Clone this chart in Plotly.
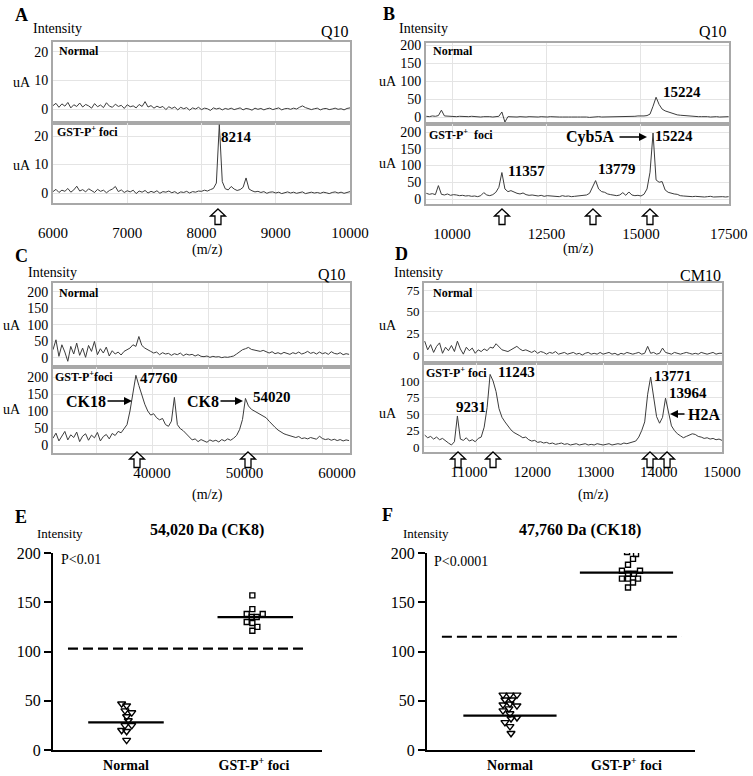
import plotly.graph_objects as go

W, H = 753, 776
SERIF = "Liberation Serif"
LINE = "#3c3c3c"
BOX = "#a8a8a8"
GRID = "#e4e4e4"

# ---------------- data ----------------
# Panel A (Q10), m/z sampling grid and intensities (uA)
A_mz = list(range(6000, 10001, 40))
A_normal = [1.2, 2.0, 0.6, 1.8, 1.0, 2.3, 0.4, 1.5, 0.9, 2.1,
            0.7, 1.6, 1.1, 0.3, 1.9, 0.8, 1.4, 0.5, 2.2, 1.0,
            0.6, 1.7, 0.9, 1.3, 0.2, 1.5, 0.8, 1.1, 0.4, 1.6,
            0.9, 2.6, 0.7, 1.2, 0.3, 1.0, 0.5, 0.9, -0.2, 0.8,
            0.2, 0.7, -0.3, 0.6, 0.1, 0.5, -0.4, 0.4, 0.0, 0.6,
            -0.2, 0.3, 0.1, -0.5, 0.4, 0.0, 0.3, -0.3, 0.2, -0.1,
            0.3, -0.2, 0.1, 0.4, -0.3, 0.2, 0.0, -0.4, 0.3, -0.1,
            0.2, -0.3, 0.1, 0.3, -0.2, 0.0, 0.4, -0.3, 0.1, 0.2,
            -0.1, 0.3, 0.0, 0.6, 1.1, 0.5, 0.2, -0.2, 0.1, 0.3,
            -0.3, 0.1, 0.2, -0.2, 0.0, 0.3, -0.1, 0.1, -0.3, 0.2, 0.4]
A_gst = [0.5, 1.3, 0.2, 1.0, 0.6, 1.6, 0.3, 1.1, 2.4, 0.7,
         1.2, 0.4, 1.5, 0.8, 0.2, 1.3, 0.6, 1.0, 0.1, 0.9,
         1.4, 2.3, 0.5, 1.1, 0.2, 0.8, 0.4, 1.0, -0.2, 0.7,
         0.3, 0.9, 0.0, 0.6, 0.2, 0.8, -0.1, 0.5, 0.3, 0.7,
         0.1, 0.5, -0.2, 0.4, 0.2, 0.6, 0.0, 0.5, 0.3, 0.7,
         0.6, 1.0, 0.7, 1.2, 1.6, 3.5, 24.0, 4.0, 1.5, 1.1,
         2.3, 1.4, 0.9, 1.2, 2.0, 5.3, 1.4, 0.8, 0.4, 0.6,
         0.2, 0.5, -0.1, 0.3, 0.4, 0.0, 0.3, -0.2, 0.2, 0.4,
         0.0, 0.3, -0.1, 0.2, 0.4, -0.2, 0.1, 0.3, 0.0, 0.2,
         -0.1, 0.3, 0.1, -0.2, 0.2, 0.4, 0.0, 0.3, -0.1, 0.2, 0.5]
A_arrow_mz = [8222]

# Panel B (Q10)
B_mz = list(range(9320, 17321, 80))
B_normal = [2, 1, 3, 2, 4, 19, 3, 2, 1, 2,
            1, 2, 1, 0, 1, 2, 1, 1, 0, 1,
            2, 1, 0, 1, 2, 14, -14, 1, 0, 1,
            0, 1, 0, 0, 1, 0, -1, 0, 1, 0,
            0, 1, 0, -1, 0, 0, 1, 0, 0, 1,
            0, 0, 1, 0, -1, 0, 0, 1, 0, 0,
            1, 0, 0, 1, 0, 1, 0, 1, 2, 2,
            3, 2, 3, 4, 8, 30, 55, 35, 22, 17,
            14, 10, 8, 6, 5, 4, 3, 3, 2, 2,
            1, 1, 2, 1, 0, 1, 1, 0, 1, 0, 1]
B_gst = [17, 14, 16, 13, 40, 14, 12, 15, 11, 13,
         12, 10, 11, 9, 10, 8, 9, 7, 10, 19,
         12, 10, 13, 20, 35, 79, 30, 22, 25, 20,
         17, 15, 18, 13, 11, 12, 10, 9, 11, 8,
         10, 9, 8, 9, 7, 10, 8, 9, 7, 8,
         9, 8, 10, 12, 17, 35, 55, 30, 22, 20,
         15, 13, 12, 10, 12, 19, 11, 21, 12, 10,
         11, 9, 14, 30, 80, 197, 57, 50, 52, 27,
         20, 17, 15, 14, 10, 9, 8, 9, 7, 8,
         7, 8, 6, 7, 8, 6, 7, 6, 7, 6, 7]
B_arrow_mz = [11323, 13731, 15239]

# Panel C (Q10)
C_mz = list(range(29300, 61301, 320))
C_normal = [25, 55, 5, 40, 18, -10, 35, 12, 45, 8,
            30, 2, 38, 20, 50, 10, 28, 15, 33, 6,
            22, 12, 18, 9, 20, 25, 30, 40, 35, 65,
            38, 30, 24, 20, 15, 18, 10, 16, 12, 14,
            8, 13, 10, 15, 7, 12, 9, 11, 6, 10,
            5, 4, 6, 2, 5, 3, 4, 1, 3, 2,
            4, 6, 12, 20, 25, 28, 32, 26, 24, 22,
            20, 23, 18, 15, 19, 13, 16, 12, 17, 14,
            11, 16, 13, 18, 12, 15, 20, 14, 17, 12,
            18, 13, 16, 11, 19, 14, 12, 16, 10, 13, 11]
C_gst = [20, 35, 12, 28, 40, 15, 30, 22, 38, 10,
         26, 33, 14, 29, 21, 37, 12, 25, 31, 18,
         34, 28, 40, 36, 48, 60, 100, 150, 205, 175,
         145, 120, 100, 88, 92, 80, 74, 78, 60, 55,
         70, 140, 60, 48, 42, 34, 25, 15, 18, 10,
         16, 12, 8, 15, 11, 14, 9, 16, 12, 18,
         14, 20, 28, 45, 75, 137, 115, 105, 100, 95,
         90, 86, 80, 70, 60, 52, 44, 38, 33, 30,
         27, 24, 22, 25, 19, 21, 18, 22, 20, 17,
         26, 19, 16, 18, 14, 17, 13, 16, 12, 15, 13]
C_arrow_mz = [38379, 50376]

# Panel D (CM10)
D_mz = list(range(10300, 15001, 47))
D_normal = [16, 6, 12, 3, 10, 14, 2, 9, 5, 11,
            4, 16, 7, 1, 9, 5, 8, 2, 6, 4,
            7, 5, 9, 8, 13, 9, 6, 5, 4, 6,
            8, 10, 7, 5, 6, 4, 3, 5, 2, 4,
            3, 1, 3, 2, 4, 1, 2, 3, 1, 2,
            3, 1, 2, 0, 2, 3, 1, 2, 1, 3,
            1, 2, 3, 1, 2, 0, 2, 1, 3, 2,
            1, 2, 3, 1, 2, 10, 2, 3, 1, 2,
            8, 3, 2, 1, 3, 2, 1, 2, 3, 2,
            1, 2, 1, 3, 2, 1, 2, 3, 1, 2, 2]
D_gst = [18, 14, 16, 12, 15, 11, 13, 9, 6, 3,
         8, 47, 12, 10, 14, 9, 11, 8, 13, 15,
         30, 60, 110, 100, 84, 58, 45, 38, 32, 26,
         22, 20, 17, 14, 15, 11, 9, 10, 7, 8,
         6, 7, 5, 6, 4, 5, 6, 4, 5, 3,
         4, 5, 3, 4, 5, 3, 4, 3, 5, 4,
         3, 4, 5, 3, 4, 5, 4, 6, 5, 6,
         7, 9, 15, 25, 38, 80, 106, 79, 46, 36,
         45, 74, 50, 32, 25, 20, 17, 14, 16, 18,
         20, 19, 16, 15, 13, 14, 12, 13, 11, 12, 10]
D_arrow_mz = [10827, 11380, 13862, 14131]

# Panels E / F (scatter of intensities)
groups = ["Normal", "GST-P<sup>+</sup> foci"]
E_normal_x = [0.966, 1.005, 0.992, 1.045, 1.005, 1.018, 1.045, 0.992, 0.966, 1.005, 1.005]
E_normal_y = [47, 45, 40, 38, 34, 30, 25, 25, 20, 19, 10]
E_gst_x = [1.987, 1.987, 1.943, 2.068, 1.982, 2.021, 1.943, 1.987, 2.026, 1.987]
E_gst_y = [157, 143, 138, 138, 135, 135, 130, 129, 125, 121]
E_medians = [28, 135]
E_cutoff = 103

F_normal_x = [0.940, 1.000, 1.060, 0.957, 1.017, 0.940, 1.000, 1.060, 0.991, 0.940,
              1.000, 1.009, 1.060, 0.957, 1.000, 1.009]
F_normal_y = [56, 56, 56, 51, 51, 46, 47, 45, 42, 40, 37, 32, 33, 28, 24, 17]
F_gst_x = [2.047, 2.005, 2.082, 2.056, 2.013, 1.961, 2.116, 2.013, 2.064, 1.961,
           2.013, 2.099, 2.056, 2.013]
F_gst_y = [206, 201, 199, 194, 188, 182, 182, 179, 179, 174, 174, 174, 170, 165]
F_medians = [35, 180]
F_cutoff = 115


# ---------------- helpers ----------------
def px(x):
    return x / W


def py(y):
    return 1 - y / H


def axname(n, kind):
    return kind if n == 1 else f"{kind}{n}"


def axkey(n, kind):
    return f"{kind}axis" if n == 1 else f"{kind}axis{n}"


fig = go.Figure()
layout = dict(width=W, height=H,
              margin=dict(l=0, r=0, t=0, b=0, pad=0, autoexpand=False),
              paper_bgcolor="white", plot_bgcolor="white", showlegend=False,
              font=dict(family=SERIF, color="black"))
annotations = []
shapes = []


def add_line(n, mz, vals):
    fig.add_trace(go.Scatter(x=mz, y=vals, mode="lines",
                             line=dict(color=LINE, width=1),
                             xaxis=axname(n, "x"), yaxis=axname(n, "y"),
                             hoverinfo="skip"))


def spec_axes(n, xdom, ydom, xr, yr, yticks, grid, labels=None, ytsize=14):
    xa = dict(domain=[px(xdom[0]), px(xdom[1])], range=xr, anchor=axname(n, "y"),
              showline=True, mirror=True, linecolor=BOX, linewidth=2, automargin=False,
              showgrid=False, zeroline=False, ticks="",
              minor=dict(tickmode="array", tickvals=grid, showgrid=True,
                         gridcolor=GRID, gridwidth=1, ticks=""))
    if labels:
        xa.update(tickmode="array", tickvals=labels[0], ticktext=labels[1],
                  tickfont=dict(size=15, family=SERIF), ticklabelstandoff=labels[2])
    else:
        xa.update(showticklabels=False)
    ya = dict(domain=[py(ydom[1]), py(ydom[0])], range=yr, anchor=axname(n, "x"),
              showline=True, mirror=True, linecolor=BOX, linewidth=2, automargin=False,
              showgrid=True, gridcolor=GRID, zeroline=False, ticks="",
              tickmode="array", tickvals=yticks, tickfont=dict(size=ytsize, family=SERIF),
              ticklabelstandoff=0)
    layout[axkey(n, "x")] = xa
    layout[axkey(n, "y")] = ya


def txt(x, y, text, size=14, bold=False, xanchor="left"):
    if bold:
        text = f"<b>{text}</b>"
    annotations.append(dict(x=px(x), y=py(y), xref="paper", yref="paper",
                            text=text, showarrow=False, xanchor=xanchor,
                            yanchor="middle", borderpad=0,
                            font=dict(size=size, family=SERIF)))


def arrow(tail_x, tip_x, y):
    annotations.append(dict(x=px(tip_x), y=py(y), xref="paper", yref="paper",
                            ax=tail_x - tip_x, ay=0, text="", showarrow=True,
                            arrowhead=2, arrowsize=1, arrowwidth=1.6,
                            arrowcolor="black"))


HOLLOW = "M 0,0 L 7.5,-7 L 3,-7 L 3,-15.5 L -3,-15.5 L -3,-7 L -7.5,-7 Z"


def hollow_arrows(n, mzs, tip_y):
    for m in mzs:
        shapes.append(dict(type="path", xref=axname(n, "x"), yref="paper",
                           xsizemode="pixel", ysizemode="pixel",
                           xanchor=m, yanchor=py(tip_y), path=HOLLOW,
                           line=dict(color="black", width=1.3),
                           fillcolor="white", layer="above"))


# ---------------- Panel A ----------------
add_line(1, A_mz, A_normal)
add_line(2, A_mz, A_gst)
spec_axes(1, (53, 350), (42, 123), [6000, 10000], [-4.9, 23.5], [0, 10, 20], [7000, 8000, 9000])
spec_axes(2, (53, 350), (123, 203), [6000, 10000], [-3.5, 24.6], [0, 10, 20], [7000, 8000, 9000],
          labels=([6000, 7000, 8000, 9000, 10000], ["6000", "7000", "8000", "9000", "10000"], 15))
hollow_arrows(2, A_arrow_mz, 209)
txt(21, 15, "A", 18, True, "center")
txt(32, 28.5, "Intensity", 14)
txt(350, 32, "Q10", 16, xanchor="right")
txt(58, 51, "Normal", 12, True)
txt(56, 131, "GST-P<sup>+</sup> foci", 12, True)
txt(12, 83, "uA", 14)
txt(12, 165, "uA", 14)
txt(220, 137, "8214", 15, True)
txt(208, 250, "(m/z)", 14, xanchor="center")

# ---------------- Panel B ----------------
add_line(3, B_mz, B_normal)
add_line(4, B_mz, B_gst)
spec_axes(3, (426, 729), (43, 124), [9312, 17330], [-19.4, 205.6], [0, 50, 100, 150, 200],
          [10000, 12500, 15000])
spec_axes(4, (426, 729), (124, 204), [9312, 17330], [-14.9, 223.9], [0, 50, 100, 150, 200],
          [10000, 12500, 15000],
          labels=([10000, 12500, 15000, 17325], ["10000", "12500", "15000", "17500"], 15))
hollow_arrows(4, B_arrow_mz, 209)
txt(389, 14, "B", 18, True, "center")
txt(398, 28.5, "Intensity", 14)
txt(728, 32, "Q10", 16, xanchor="right")
txt(432, 51, "Normal", 12, True)
txt(428, 134, "GST-P<sup>+</sup>  foci", 12, True)
txt(378, 82, "uA", 14)
txt(378, 163, "uA", 14)
txt(662, 92, "15224", 15, True)
txt(654, 136, "15224", 15, True)
txt(565, 137, "Cyb5A", 16, True)
arrow(618, 647, 137)
txt(507, 171, "11357", 15, True)
txt(597, 169, "13779", 15, True)
txt(578, 249, "(m/z)", 14, xanchor="center")

# ---------------- Panel C ----------------
add_line(5, C_mz, C_normal)
add_line(6, C_mz, C_gst)
C_grid = [33950, 40000, 46160, 52430, 58480]
spec_axes(5, (53, 350), (283, 367), [29300, 61400], [-27.3, 227], [0, 50, 100, 150, 200], C_grid)
spec_axes(6, (53, 350), (367, 453), [29300, 61400], [-23.5, 229.4], [0, 50, 100, 150, 200], C_grid,
          labels=([40000, 50000, 60000], ["40000", "50000", "60000"], 5))
hollow_arrows(6, C_arrow_mz, 452)
txt(21.5, 256, "C", 18, True, "center")
txt(27, 272, "Intensity", 14)
txt(347, 274, "Q10", 16, xanchor="right")
txt(58, 293, "Normal", 12, True)
txt(54, 376, "GST-P<sup>+</sup>foci", 12, True)
txt(2, 325, "uA", 14)
txt(2, 409, "uA", 14)
txt(139, 378, "47760", 15, True)
txt(252, 397, "54020", 15, True)
txt(65, 401, "CK18", 16, True)
arrow(106, 132, 401)
txt(186, 401, "CK8", 16, True)
arrow(219, 243, 401)
txt(208, 495, "(m/z)", 14, xanchor="center")

# ---------------- Panel D ----------------
add_line(7, D_mz, D_normal)
add_line(8, D_mz, D_gst)
D_grid = [11111, 12075, 13119, 14131]
spec_axes(7, (424, 722), (283, 363), [10289, 15000], [-9.2, 83.1], [0, 25, 50, 75], D_grid, ytsize=13)
spec_axes(8, (424, 722), (363, 452), [10289, 15000], [-7.6, 127.3], [0, 25, 50, 75, 100], D_grid,
          labels=([11000, 12000, 13000, 14000, 15000],
                  ["11000", "12000", "13000", "14000", "15000"], 5), ytsize=13)
hollow_arrows(8, D_arrow_mz, 452)
txt(401, 254, "D", 18, True, "center")
txt(393, 272, "Intensity", 14)
txt(722, 275, "CM10", 16, xanchor="right")
txt(432, 293, "Normal", 12, True)
txt(425, 372, "GST-P<sup>+</sup> foci", 12, True)
txt(378, 325, "uA", 14)
txt(378, 413, "uA", 14)
txt(497, 372, "11243", 15, True)
txt(455, 407, "9231", 15, True)
txt(653, 376, "13771", 15, True)
txt(668, 393, "13964", 15, True)
txt(687, 414, "H2A", 16, True)
arrow(686, 670, 414)
txt(593, 495, "(m/z)", 14, xanchor="center")


# ---------------- Panels E / F ----------------
def scatter_panel(n, xdom, xr, nx, ny, gx, gy, medians, half, cutoff, cut_span):
    xa, ya = axname(n, "x"), axname(n, "y")
    fig.add_trace(go.Scatter(x=nx, y=ny, mode="markers", xaxis=xa, yaxis=ya,
                             marker=dict(symbol="triangle-down-open", size=7, color="black",
                                         line=dict(width=1.4)), hoverinfo="skip"))
    fig.add_trace(go.Scatter(x=gx, y=gy, mode="markers", xaxis=xa, yaxis=ya,
                             marker=dict(symbol="square-open", size=5, color="black",
                                         line=dict(width=1.4)), hoverinfo="skip"))
    for i, m in enumerate(medians):
        c = i + 1
        fig.add_trace(go.Scatter(x=[c - half[0] + half[1] * i, c + half[0] + half[1] * i],
                                 y=[m, m], mode="lines", xaxis=xa, yaxis=ya,
                                 line=dict(color="black", width=2.2), hoverinfo="skip"))
    fig.add_trace(go.Scatter(x=list(cut_span), y=[cutoff, cutoff], mode="lines", xaxis=xa, yaxis=ya,
                             line=dict(color="black", width=2.2, dash="10px,5px"), hoverinfo="skip"))
    layout[axkey(n, "x")] = dict(domain=[px(xdom[0]), px(xdom[1])], range=xr, anchor=ya,
                                 showline=True, linecolor="black", linewidth=2, ticks="",
                                 automargin=False,
                                 tickmode="array", tickvals=[1, 2],
                                 ticktext=[f"<b>{g}</b>" for g in groups],
                                 tickfont=dict(size=14, family=SERIF), showgrid=False,
                                 zeroline=False, ticklabelstandoff=1)
    layout[axkey(n, "y")] = dict(domain=[py(750), py(553)], range=[0, 200], anchor=xa,
                                 showline=True, linecolor="black", linewidth=2,
                                 automargin=False,
                                 ticks="outside", ticklen=7, tickwidth=2, tickcolor="black",
                                 tickmode="array", tickvals=[0, 50, 100, 150, 200],
                                 tickfont=dict(size=16, family=SERIF), showgrid=False,
                                 zeroline=False, ticklabelstandoff=0)


scatter_panel(9, (53, 322), [0.430, 2.531], E_normal_x, E_normal_y, E_gst_x, E_gst_y,
              E_medians, (0.295, 0.01), E_cutoff, (0.547, 2.42))
scatter_panel(10, (427, 695), [0.288, 2.588], F_normal_x, F_normal_y, F_gst_x, F_gst_y,
              F_medians, (0.40, 0.0), F_cutoff, (0.416, 2.476))

txt(21, 517, "E", 18, True, "center")
txt(36, 533, "Intensity", 13)
txt(207, 530, "54,020 Da (CK8)", 16, True, "center")
txt(60, 559, "P&lt;0.01", 14)
txt(387, 515, "F", 18, True, "center")
txt(402, 533, "Intensity", 13)
txt(580, 530, "47,760 Da (CK18)", 16, True, "center")
txt(433, 561, "P&lt;0.0001", 14)

layout["annotations"] = annotations
layout["shapes"] = shapes
fig.update_layout(**layout)
fig.write_html("out.html", config={"displayModeBar": False},
               post_script="document.body.style.margin='0px';")
